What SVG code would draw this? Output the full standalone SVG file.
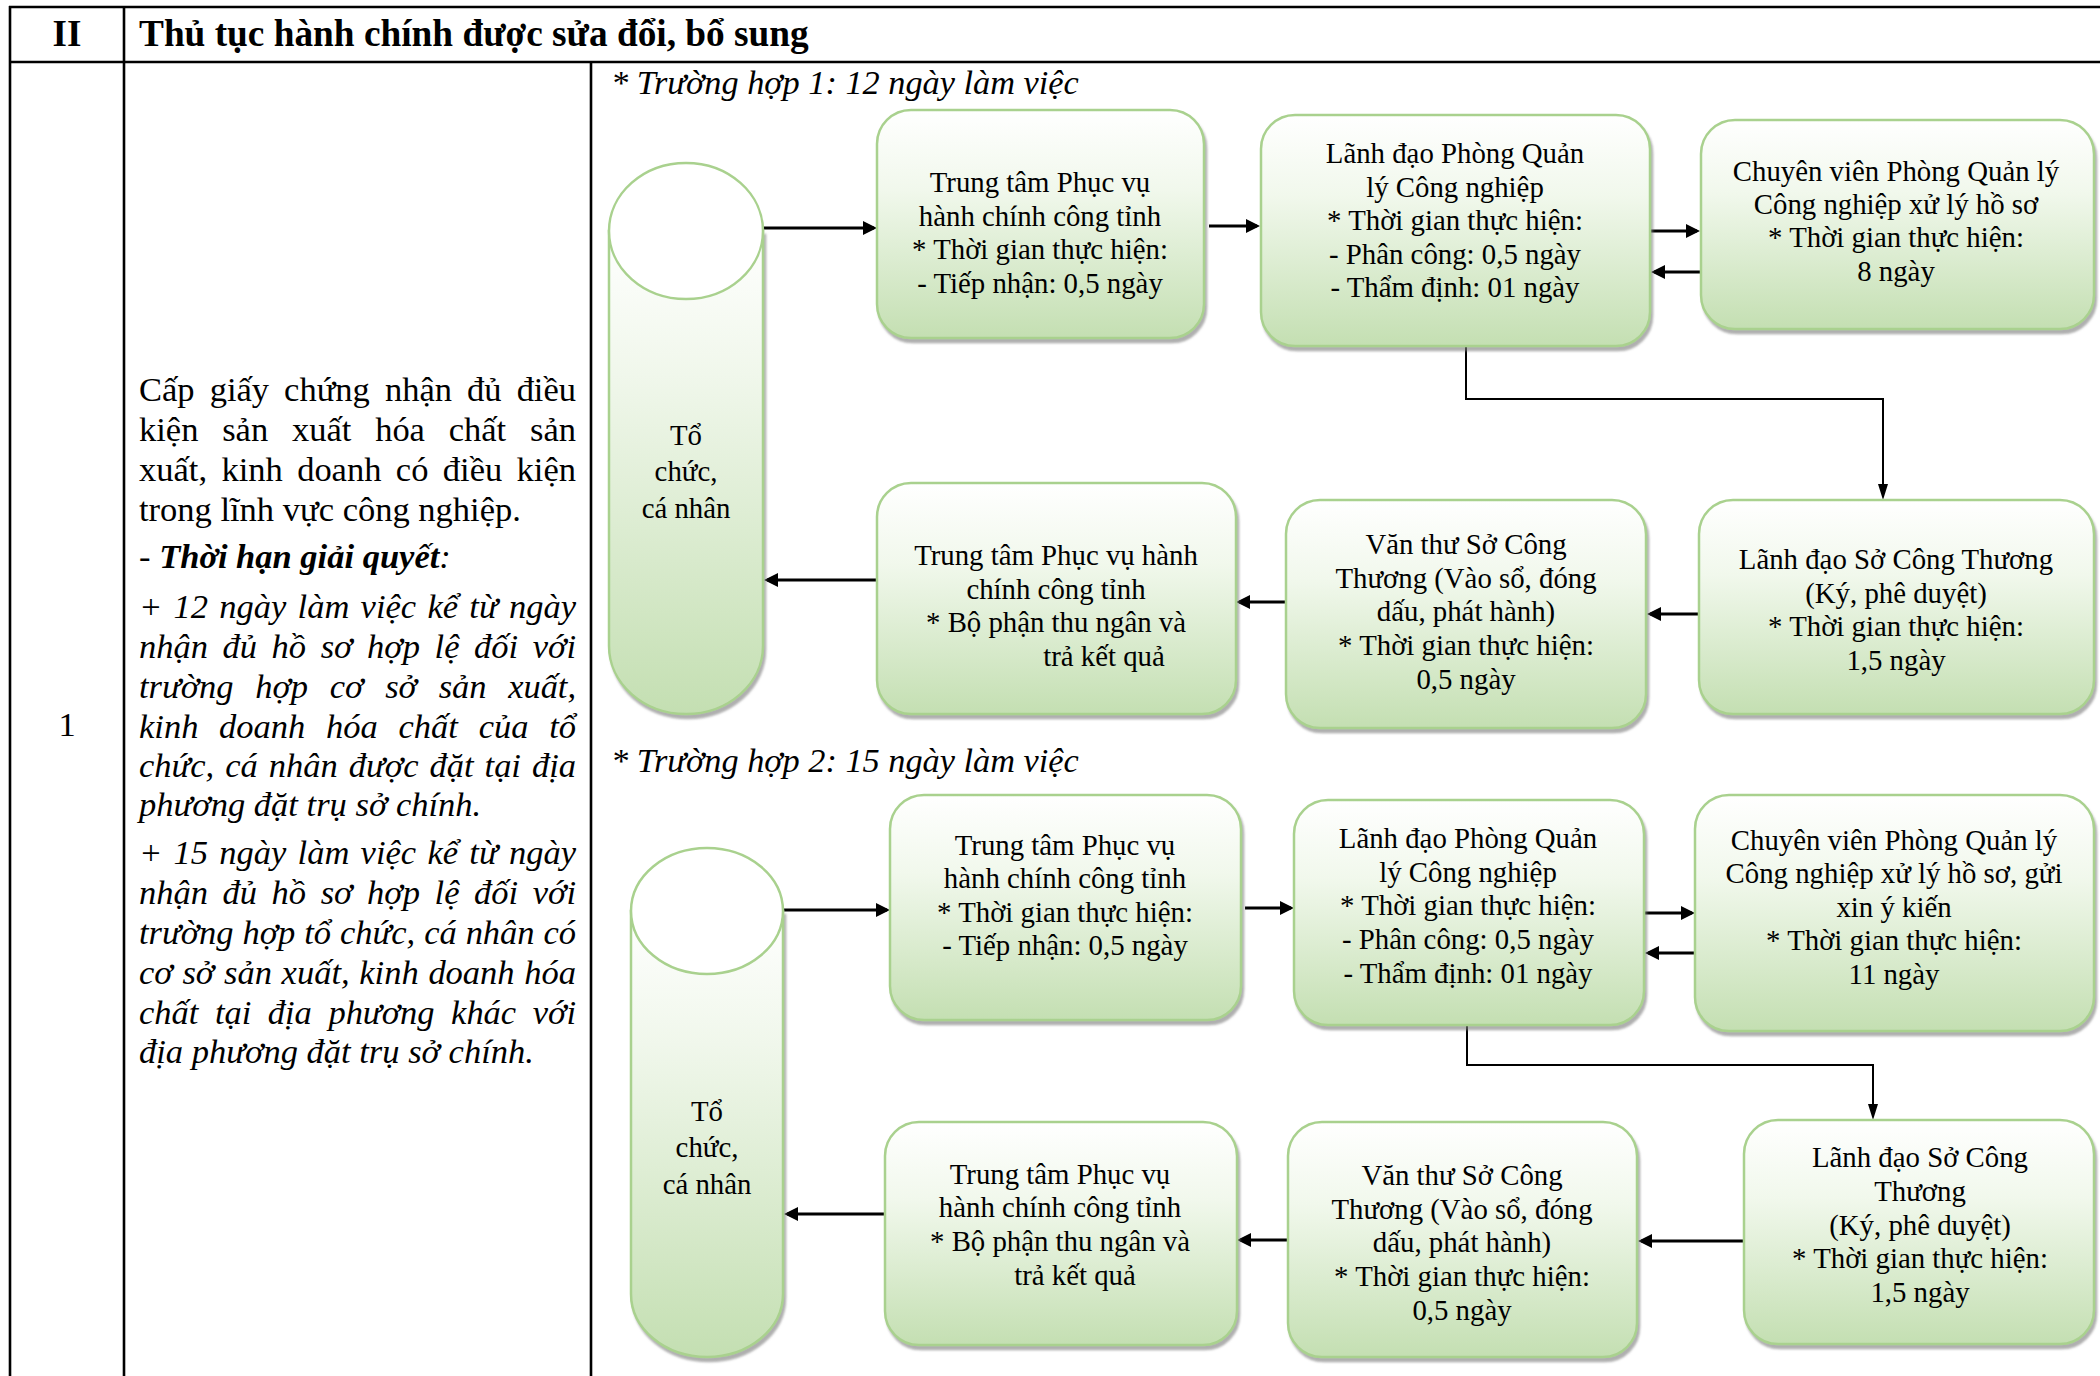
<svg xmlns="http://www.w3.org/2000/svg" width="2100" height="1376" viewBox="0 0 2100 1376">
<defs>
<style>
.t{font-family:"Liberation Serif","Times New Roman",serif;fill:#000}
.bx{font-size:28.8px;text-anchor:middle}
.ds{font-size:34.5px}
.it{font-style:italic}
.b{font-weight:bold}
.node rect{fill:url(#gb);stroke:#a9d18e;stroke-width:2.5;filter:url(#sh)}
.cylb{fill:url(#gc);stroke:#a9d18e;stroke-width:2.5;filter:url(#sh)}
.cylt{fill:#ffffff;stroke:#a9d18e;stroke-width:2.5}
.tbl line{stroke:#000;stroke-width:2.6}
.ar{fill:none;stroke:#000;stroke-width:2.8}
.el{fill:none;stroke:#000;stroke-width:2}
</style>
<linearGradient id="gb" x1="0" y1="0" x2="0" y2="1">
<stop offset="0" stop-color="#ffffff"/>
<stop offset="0.35" stop-color="#f1f8ec"/>
<stop offset="1" stop-color="#c4dfb2"/>
</linearGradient>
<linearGradient id="gc" x1="0" y1="0" x2="0" y2="1">
<stop offset="0" stop-color="#ffffff"/>
<stop offset="0.3" stop-color="#f0f7eb"/>
<stop offset="1" stop-color="#c4dfb2"/>
</linearGradient>
<filter id="sh" x="-5%" y="-5%" width="115%" height="115%">
<feDropShadow dx="2" dy="4" stdDeviation="1.2" flood-color="#7a7a7a" flood-opacity="0.6"/>
</filter>
<marker id="ah" viewBox="0 0 14 14" refX="11" refY="7" markerWidth="14" markerHeight="14" markerUnits="userSpaceOnUse" orient="auto">
<path d="M0,0 L14,7 L0,14 z" fill="#000"/>
</marker>
<marker id="ah2" viewBox="0 0 16 10" refX="13" refY="5" markerWidth="16" markerHeight="10" markerUnits="userSpaceOnUse" orient="auto">
<path d="M0,0 L16,5 L0,10 z" fill="#000"/>
</marker>
</defs>
<rect x="0" y="0" width="2100" height="1376" fill="#ffffff"/>

<g id="table" class="tbl">
<line x1="9" y1="7" x2="2100" y2="7"/>
<line x1="9" y1="62" x2="2100" y2="62"/>
<line x1="10" y1="6" x2="10" y2="1376"/>
<line x1="124" y1="6" x2="124" y2="1376"/>
<line x1="591" y1="62" x2="591" y2="1376"/>
</g>

<g id="header">
<text class="t b" x="67" y="46" font-size="37" text-anchor="middle">II</text>
<text class="t b" x="139" y="46" font-size="37.3">Thủ tục hành chính được sửa đổi, bổ sung</text>
<text class="t" x="67" y="736" font-size="34.5" text-anchor="middle">1</text>
</g>

<g id="description" class="t ds">
<text x="139" y="401" word-spacing="6.5" textLength="437" lengthAdjust="spacing">Cấp giấy chứng nhận đủ điều</text>
<text x="139" y="441" word-spacing="15.2" textLength="437" lengthAdjust="spacing">kiện sản xuất hóa chất sản</text>
<text x="139" y="481" word-spacing="5.8" textLength="437" lengthAdjust="spacing">xuất, kinh doanh có điều kiện</text>
<text x="139" y="521">trong lĩnh vực công nghiệp.</text>
<text x="139" y="568">- <tspan class="b it">Thời hạn giải quyết</tspan><tspan class="it">:</tspan></text>
<g class="it">
<text x="139" y="618" word-spacing="2.7" textLength="437" lengthAdjust="spacing">+ 12 ngày làm việc kể từ ngày</text>
<text x="139" y="658" word-spacing="6" textLength="437" lengthAdjust="spacing">nhận đủ hồ sơ hợp lệ đối với</text>
<text x="139" y="698" word-spacing="13.2" textLength="437" lengthAdjust="spacing">trường hợp cơ sở sản xuất,</text>
<text x="139" y="738" word-spacing="12.1" textLength="437" lengthAdjust="spacing">kinh doanh hóa chất của tổ</text>
<text x="139" y="777" word-spacing="2.5" textLength="437" lengthAdjust="spacing">chức, cá nhân được đặt tại địa</text>
<text x="139" y="816">phương đặt trụ sở chính.</text>
<text x="139" y="864" word-spacing="2.7" textLength="437" lengthAdjust="spacing">+ 15 ngày làm việc kể từ ngày</text>
<text x="139" y="904" word-spacing="6" textLength="437" lengthAdjust="spacing">nhận đủ hồ sơ hợp lệ đối với</text>
<text x="139" y="944" word-spacing="0.4" textLength="437" lengthAdjust="spacing">trường hợp tổ chức, cá nhân có</text>
<text x="139" y="984" word-spacing="1.1" textLength="437" lengthAdjust="spacing">cơ sở sản xuất, kinh doanh hóa</text>
<text x="139" y="1024" word-spacing="8" textLength="437" lengthAdjust="spacing">chất tại địa phương khác với</text>
<text x="139" y="1063">địa phương đặt trụ sở chính.</text>
</g>
</g>

<g id="case-labels" class="t it" font-size="34.3">
<text x="611" y="94">* Trường hợp 1: 12 ngày làm việc</text>
<text x="611" y="772">* Trường hợp 2: 15 ngày làm việc</text>
</g>

<g id="connectors">
<path class="ar" d="M764,228 H874" marker-end="url(#ah)"/>
<path class="ar" d="M1209,226 H1257" marker-end="url(#ah)"/>
<path class="ar" d="M1651,231 H1697" marker-end="url(#ah)"/>
<path class="ar" d="M1700,272 H1654" marker-end="url(#ah)"/>
<path class="el" d="M1466,346 V399 H1883 V497" marker-end="url(#ah2)"/>
<path class="ar" d="M1699,614 H1650" marker-end="url(#ah)"/>
<path class="ar" d="M1285,602 H1239" marker-end="url(#ah)"/>
<path class="ar" d="M877,580 H767" marker-end="url(#ah)"/>
<path class="ar" d="M783,910 H887" marker-end="url(#ah)"/>
<path class="ar" d="M1245,908 H1291" marker-end="url(#ah)"/>
<path class="ar" d="M1645,913 H1692" marker-end="url(#ah)"/>
<path class="ar" d="M1695,953 H1648" marker-end="url(#ah)"/>
<path class="el" d="M1467,1026 V1065 H1873 V1117" marker-end="url(#ah2)"/>
<path class="ar" d="M1744,1241 H1641" marker-end="url(#ah)"/>
<path class="ar" d="M1288,1240 H1240" marker-end="url(#ah)"/>
<path class="ar" d="M886,1214 H787" marker-end="url(#ah)"/>
</g>

<g id="cyl1">
<path class="cylb" d="M609,231 L609,646 A77,68 0 0 0 763,646 L763,231 Z"/>
<ellipse class="cylt" cx="686" cy="231" rx="77" ry="68"/>
<text class="t bx" x="686"><tspan x="686" y="445">Tổ</tspan><tspan x="686" y="481">chức,</tspan><tspan x="686" y="518">cá nhân</tspan></text>
</g>

<g id="A1" class="node">
<rect x="877" y="110" width="327" height="228" rx="34"/>
<text class="t bx"><tspan x="1040" y="192">Trung tâm Phục vụ</tspan><tspan x="1040" y="225.5">hành chính công tỉnh</tspan><tspan x="1040" y="259">* Thời gian thực hiện:</tspan><tspan x="1040" y="292.5">- Tiếp nhận: 0,5 ngày</tspan></text>
</g>

<g id="B1" class="node">
<rect x="1261" y="115" width="389" height="231" rx="34"/>
<text class="t bx"><tspan x="1455" y="163">Lãnh đạo Phòng Quản</tspan><tspan x="1455" y="197">lý Công nghiệp</tspan><tspan x="1455" y="230">* Thời gian thực hiện:</tspan><tspan x="1455" y="264">- Phân công: 0,5 ngày</tspan><tspan x="1455" y="297">- Thẩm định: 01 ngày</tspan></text>
</g>

<g id="C1" class="node">
<rect x="1701" y="120" width="393" height="209" rx="34"/>
<text class="t bx"><tspan x="1896" y="181">Chuyên viên Phòng Quản lý</tspan><tspan x="1896" y="214">Công nghiệp xử lý hồ sơ</tspan><tspan x="1896" y="247">* Thời gian thực hiện:</tspan><tspan x="1896" y="281">8 ngày</tspan></text>
</g>

<g id="D1" class="node">
<rect x="1699" y="500" width="395" height="214" rx="34"/>
<text class="t bx"><tspan x="1896" y="569">Lãnh đạo Sở Công Thương</tspan><tspan x="1896" y="603">(Ký, phê duyệt)</tspan><tspan x="1896" y="636">* Thời gian thực hiện:</tspan><tspan x="1896" y="670">1,5 ngày</tspan></text>
</g>

<g id="E1" class="node">
<rect x="1286" y="500" width="360" height="228" rx="34"/>
<text class="t bx"><tspan x="1466" y="554">Văn thư Sở Công</tspan><tspan x="1466" y="588">Thương (Vào sổ, đóng</tspan><tspan x="1466" y="621">dấu, phát hành)</tspan><tspan x="1466" y="655">* Thời gian thực hiện:</tspan><tspan x="1466" y="689">0,5 ngày</tspan></text>
</g>

<g id="F1" class="node">
<rect x="877" y="483" width="359" height="231" rx="34"/>
<text class="t bx"><tspan x="1056" y="565">Trung tâm Phục vụ hành</tspan><tspan x="1056" y="599">chính công tỉnh</tspan><tspan x="1056" y="632">* Bộ phận thu ngân và</tspan><tspan x="1104" y="666">trả kết quả</tspan></text>
</g>

<g id="cyl2">
<path class="cylb" d="M631,911 L631,1294 A76,63 0 0 0 783,1294 L783,911 Z"/>
<ellipse class="cylt" cx="707" cy="911" rx="76" ry="63"/>
<text class="t bx"><tspan x="707" y="1121">Tổ</tspan><tspan x="707" y="1157">chức,</tspan><tspan x="707" y="1194">cá nhân</tspan></text>
</g>

<g id="A2" class="node">
<rect x="890" y="795" width="351" height="225" rx="34"/>
<text class="t bx"><tspan x="1065" y="855">Trung tâm Phục vụ</tspan><tspan x="1065" y="888">hành chính công tỉnh</tspan><tspan x="1065" y="922">* Thời gian thực hiện:</tspan><tspan x="1065" y="955">- Tiếp nhận: 0,5 ngày</tspan></text>
</g>

<g id="B2" class="node">
<rect x="1294" y="800" width="350" height="225" rx="34"/>
<text class="t bx"><tspan x="1468" y="848">Lãnh đạo Phòng Quản</tspan><tspan x="1468" y="882">lý Công nghiệp</tspan><tspan x="1468" y="915">* Thời gian thực hiện:</tspan><tspan x="1468" y="949">- Phân công: 0,5 ngày</tspan><tspan x="1468" y="983">- Thẩm định: 01 ngày</tspan></text>
</g>

<g id="C2" class="node">
<rect x="1695" y="795" width="399" height="236" rx="34"/>
<text class="t bx"><tspan x="1894" y="850">Chuyên viên Phòng Quản lý</tspan><tspan x="1894" y="883">Công nghiệp xử lý hồ sơ, gửi</tspan><tspan x="1894" y="917">xin ý kiến</tspan><tspan x="1894" y="950">* Thời gian thực hiện:</tspan><tspan x="1894" y="984">11 ngày</tspan></text>
</g>

<g id="D2" class="node">
<rect x="1744" y="1120" width="350" height="224" rx="34"/>
<text class="t bx"><tspan x="1920" y="1167">Lãnh đạo Sở Công</tspan><tspan x="1920" y="1201">Thương</tspan><tspan x="1920" y="1235">(Ký, phê duyệt)</tspan><tspan x="1920" y="1268">* Thời gian thực hiện:</tspan><tspan x="1920" y="1302">1,5 ngày</tspan></text>
</g>

<g id="E2" class="node">
<rect x="1288" y="1122" width="349" height="235" rx="34"/>
<text class="t bx"><tspan x="1462" y="1185">Văn thư Sở Công</tspan><tspan x="1462" y="1219">Thương (Vào sổ, đóng</tspan><tspan x="1462" y="1252">dấu, phát hành)</tspan><tspan x="1462" y="1286">* Thời gian thực hiện:</tspan><tspan x="1462" y="1320">0,5 ngày</tspan></text>
</g>

<g id="F2" class="node">
<rect x="885" y="1122" width="352" height="223" rx="34"/>
<text class="t bx"><tspan x="1060" y="1184">Trung tâm Phục vụ</tspan><tspan x="1060" y="1217">hành chính công tỉnh</tspan><tspan x="1060" y="1251">* Bộ phận thu ngân và</tspan><tspan x="1075" y="1285">trả kết quả</tspan></text>
</g>
</svg>
